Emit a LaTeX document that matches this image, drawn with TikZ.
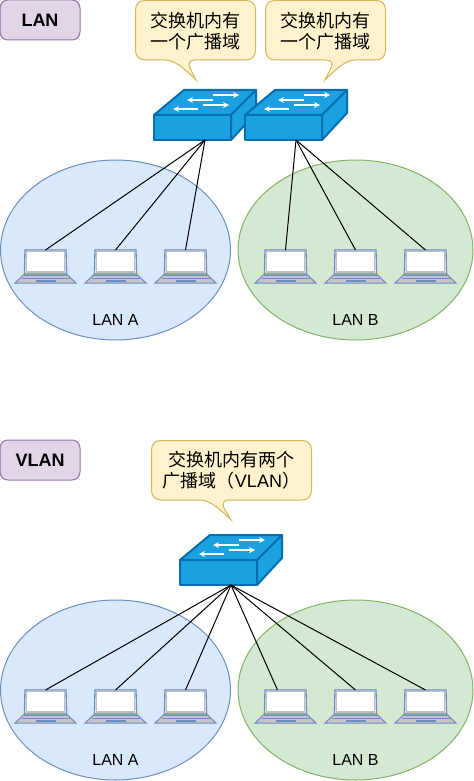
\documentclass[tikz,border=0pt]{standalone}
\usepackage{fontspec}
\setmainfont{Liberation Sans}
\newfontfamily\cjk{Noto Sans CJK SC}
\definecolor{blueFill}{HTML}{DAE8FC}
\definecolor{blueLine}{HTML}{6C8EBF}
\definecolor{greenFill}{HTML}{D5E8D4}
\definecolor{greenLine}{HTML}{82B366}
\definecolor{yellowFill}{HTML}{FFF2CC}
\definecolor{yellowLine}{HTML}{D6B656}
\definecolor{purpleFill}{HTML}{E1D5E7}
\definecolor{purpleLine}{HTML}{9673A6}
\definecolor{switchFill}{HTML}{1BA1E2}
\definecolor{switchLine}{HTML}{006EAF}
\tikzset{
  lanA/.style={draw=blueLine,fill=blueFill,line width=0.75pt},
  lanB/.style={draw=greenLine,fill=greenFill,line width=0.75pt},
  callout/.style={draw=yellowLine,fill=yellowFill,line width=0.75pt},
  titlebox/.style={draw=purpleLine,fill=purpleFill,line width=0.75pt,rounded corners=6pt,
    minimum width=60pt,minimum height=30pt,inner sep=0pt,font=\fontsize{13.5}{16}\selectfont\bfseries},
  calltext/.style={align=center,inner sep=0pt,font=\fontsize{13.5}{15.75}\selectfont\cjk},
  lantext/.style={inner sep=0pt,font=\fontsize{12}{14}\selectfont},
  wire/.style={draw=black,line width=0.75pt},
  pics/laptop/.style={code={
    \draw [draw=blueLine,fill=white,line width=1pt] (-20.5,0) -- (20.5,0) -- (21,24) -- (-21,24) -- cycle ;
    \draw [draw=black!25,line width=1pt] (-19,1.5) rectangle (19,22) ;
    \draw [draw=blueLine,fill=black!22,line width=0.75pt] (-21,24) -- (21,24) -- (30.5,33) -- (-30.5,33) -- cycle ;
    \draw [draw=blueLine,line width=0.75pt] (-22,25.5) -- (22,25.5) (-24,28) -- (24,28) ;
    \draw [draw=blueLine,line width=1pt] (-10,31) -- (10,31) ;
    \coordinate (-top) at (0,0);
    \coordinate (-side) at (-8,0);
  }},
  pics/switchbox/.style={code={
    \draw [draw=switchLine,fill=switchFill,line width=1.5pt,line join=round] (0,0) -- (30,-25) -- (102,-25) -- (77,0) -- cycle ;
    \draw [draw=switchLine,fill=switchFill,line width=1.5pt,line join=round] (77,0) -- (102,-25) -- (102,-2) -- (77,25) -- cycle ;
    \draw [draw=switchLine,fill=switchFill,line width=1.5pt,line join=round] (0,0) rectangle (77,25) ;
    \draw [white,line width=1pt,-stealth] (59,-20) -- (85,-20) ;
    \draw [white,line width=1pt,-stealth] (59,-15) -- (33,-15) ;
    \draw [white,line width=1pt,-stealth] (49,-10) -- (75,-10) ;
    \draw [white,line width=1pt,-stealth] (44,-6) -- (19,-6) ;
    \coordinate (-port) at (51,25);
  }}
}

\begin{document}
\begin{tikzpicture}[x=0.75pt,y=-0.75pt]
\useasboundingbox (0,0) rectangle (474,781);

% Broadcast domains
\draw [lanA] (115.5,250) ellipse (115 and 90) ;
\draw [lanB] (355.5,250) ellipse (117.5 and 90) ;
\draw [lanA] (115.5,690) ellipse (115 and 90) ;
\draw [lanB] (355.5,690) ellipse (117.5 and 90) ;

% Callouts
\draw [callout] (145,0.5) -- (246,0.5) .. controls (252,0.5) and (255.5,4) .. (255.5,10) -- (255.5,50) .. controls (255.5,56) and (252,60) .. (246,60) -- (195,60) .. controls (189,60) and (188,64) .. (190,68) -- (196,80) .. controls (188,72) and (176,60) .. (165,60) -- (145,60) .. controls (139,60) and (135.5,56) .. (135.5,50) -- (135.5,10) .. controls (135.5,4) and (139,0.5) .. (145,0.5) -- cycle ;
\draw [callout] (275,0.5) -- (376,0.5) .. controls (382,0.5) and (385.5,4) .. (385.5,10) -- (385.5,50) .. controls (385.5,56) and (382,60) .. (376,60) -- (355,60) .. controls (345,60) and (333,72) .. (325,80) -- (331,68) .. controls (333,64) and (332,60) .. (326,60) -- (275,60) .. controls (269,60) and (265.5,56) .. (265.5,50) -- (265.5,10) .. controls (265.5,4) and (269,0.5) .. (275,0.5) -- cycle ;
\draw [callout] (161,440.5) -- (302,440.5) .. controls (308,440.5) and (311.5,444) .. (311.5,450) -- (311.5,490) .. controls (311.5,496) and (308,500) .. (302,500) -- (229,500) .. controls (223,500) and (222,504) .. (224,508) -- (231,520) .. controls (223,512) and (211,500) .. (200,500) -- (161,500) .. controls (155,500) and (151.5,496) .. (151.5,490) -- (151.5,450) .. controls (151.5,444) and (155,440.5) .. (161,440.5) -- cycle ;

% Title boxes
\node [titlebox] (lanTitle) at (40,20) {LAN};
\node [titlebox] (vlanTitle) at (40,460) {VLAN};

% Switches
\pic (swA) at (154,115) {switchbox};
\pic (swB) at (245,115) {switchbox};
\pic (swV) at (180,560) {switchbox};

% Laptops
\pic (pcA) at (45.5,250) {laptop};
\pic (pcB) at (115.5,250) {laptop};
\pic (pcC) at (185.5,250) {laptop};
\pic (pcD) at (285.5,250) {laptop};
\pic (pcE) at (355.5,250) {laptop};
\pic (pcF) at (425.5,250) {laptop};
\pic (pcG) at (45.5,690) {laptop};
\pic (pcH) at (115.5,690) {laptop};
\pic (pcI) at (185.5,690) {laptop};
\pic (pcJ) at (285.5,690) {laptop};
\pic (pcK) at (355.5,690) {laptop};
\pic (pcL) at (425.5,690) {laptop};

% Straight Lines
\draw [wire] (swA-port) -- (pcA-top) ;
\draw [wire] (swA-port) -- (pcB-top) ;
\draw [wire] (swA-port) -- (pcC-top) ;
\draw [wire] (swB-port) -- (pcD-top) ;
\draw [wire] (swB-port) -- (pcE-top) ;
\draw [wire] (swB-port) -- (pcF-top) ;
\draw [wire] (swV-port) -- (pcG-top) ;
\draw [wire] (swV-port) -- (pcH-top) ;
\draw [wire] (swV-port) -- (pcI-top) ;
\draw [wire] (swV-port) -- (pcJ-side) ;
\draw [wire] (swV-port) -- (pcK-top) ;
\draw [wire] (swV-port) -- (pcL-top) ;

% Text Node
\node [calltext] (callA) at (195.5,31) {交换机内有\\一个广播域};
\node [calltext] (callB) at (325.5,31) {交换机内有\\一个广播域};
\node [calltext] (callV) at (231.5,470) {交换机内有两个\\广播域（{\rmfamily VLAN}）};
\node [lantext] (textA) at (115.5,320) {LAN A};
\node [lantext] (textB) at (355.5,320) {LAN B};
\node [lantext] (textC) at (115.5,760) {LAN A};
\node [lantext] (textD) at (355.5,760) {LAN B};

\end{tikzpicture}
\end{document}
